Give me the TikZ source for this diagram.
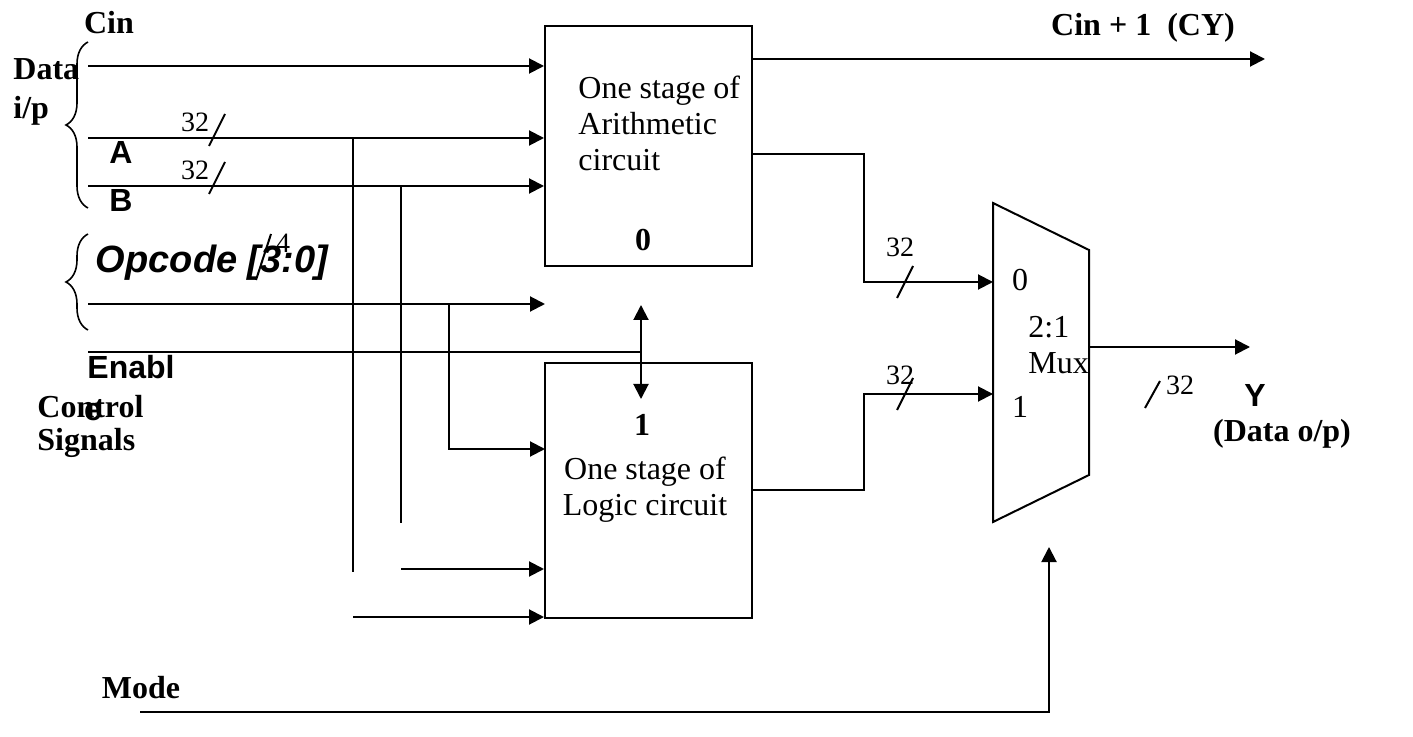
\documentclass[tikz,border=0pt]{standalone}
\usepackage{fontspec}
\setmainfont{Liberation Serif}
\setsansfont{Liberation Sans}
\usepackage{tikz}
\usetikzlibrary{arrows.meta}
\usetikzlibrary{decorations.pathreplacing}
\usetikzlibrary{positioning}

\tikzset{
  wire/.style={line width=1pt},
  sig/.style={line width=1pt, -{Triangle[length=7.5pt,width=7.5pt]}},
  blk/.style={draw, line width=1pt, inner sep=0pt},
  txt/.style={inner sep=0pt, font=\fontsize{16}{18}\selectfont},
  btxt/.style={inner sep=0pt, font=\fontsize{16}{18}\selectfont\bfseries},
  stxt/.style={inner sep=0pt, font=\fontsize{16}{18}\selectfont\sffamily\bfseries},
  bw/.style={inner sep=0pt, font=\fontsize{14}{16}\selectfont},
}

\begin{document}
\begin{tikzpicture}[x=0.5pt, y=0.5pt]
    \useasboundingbox (0,0) rectangle (1413,-737);

    % the two stages
    \node [blk, minimum width=103.5pt, minimum height=120pt] (arith) at (648.5,-146) {};
    \node [blk, minimum width=103.5pt, minimum height=127.5pt] (logic) at (648.5,-490.5) {};

    \node [txt, align=left, anchor=west] (arithtxt) at (578,-123) {One stage of\\Arithmetic\\circuit};
    \node [btxt] (sel0) at (643,-240) {0};
    \node [btxt] (sel1) at (642,-425) {1};
    \node [txt, align=center] (logictxt) at (645,-490) {One stage of\\Logic circuit};

    % 2:1 mux
    \coordinate (m1) at (993,-203);
    \coordinate (m2) at (1089,-250);
    \coordinate (m3) at (1089,-475);
    \coordinate (m4) at (993,-522);
    \draw [wire] (m1) -- (m2) -- (m3) -- (m4) -- cycle;
    \coordinate (mux0) at (993,-282);
    \coordinate (mux1) at (993,-394);
    \coordinate (muxout) at (1089,-347);
    \node [txt] (in0) at (1020,-280) {0};
    \node [txt] (in1) at (1020,-407) {1};
    \node [txt, align=left, anchor=west] (muxtxt) at (1028,-345) {2:1\\Mux};

    % data inputs
    \coordinate (cinL) at (88,-66);
    \coordinate (aL) at (88,-138);
    \coordinate (bL) at (88,-186);
    \draw [sig] (cinL) -- (cinL -| arith.west);
    \draw [sig] (aL) -- (aL -| arith.west);
    \draw [sig] (bL) -- (bL -| arith.west);
    \draw [decorate, decoration={brace, amplitude=11pt}, line width=0.8pt] (88,-208) -- (88,-42);

    \node [btxt] (cin) at (109,-23) {Cin};
    \node [btxt, anchor=west] (data) at (13,-69) {Data};
    \node [btxt, anchor=west] (ip) at (13,-111) {i/p};
    \node [stxt] (alab) at (121,-152) {A};
    \node [stxt] (blab) at (121,-200) {B};
    \node [bw] (wa) at (195,-122) {32};
    \node [bw] (wb) at (195,-170) {32};
    \draw [wire] (209,-146) -- (225,-114);
    \draw [wire] (209,-194) -- (225,-162);

    % A and B down to the logic stage
    \coordinate (aT) at (353,-138);
    \coordinate (aDn) at (353,-572);
    \coordinate (aLow) at (353,-617);
    \coordinate (bT) at (401,-186);
    \coordinate (bDn) at (401,-523);
    \coordinate (bLow) at (401,-569);
    \draw [wire] (aT) -- (aDn);
    \draw [wire] (bT) -- (bDn);
    \draw [sig] (bLow) -- (bLow -| logic.west);
    \draw [sig] (aLow) -- (aLow -| logic.west);

    % control signals
    \coordinate (opL) at (88,-304);
    \coordinate (opR) at (545,-304);
    \coordinate (opT) at (449,-304);
    \coordinate (opIn) at (545,-449);
    \draw [sig] (opL) -- (opR);
    \draw [sig] (opT) |- (opIn);
    \draw [decorate, decoration={brace, amplitude=11pt}, line width=0.8pt] (88,-330) -- (88,-234);
    \node [inner sep=0pt, font=\fontsize{19}{22}\selectfont\sffamily\bfseries\itshape] (opcode) at (212,-263) {Opcode [3:0]};
    \node [bw] (wop) at (283,-243) {4};
    \draw [wire] (256,-280) -- (271,-234);

    \coordinate (enL) at (88,-352);
    \coordinate (en) at (641,-352);
    \coordinate (enU) at (641,-305);
    \coordinate (enD) at (641,-399);
    \draw [wire] (enL) -- (en);
    \draw [line width=1pt, {Triangle[length=7.5pt,width=7.5pt]}-{Triangle[length=7.5pt,width=7.5pt]}] (enU) -- (enD);
    \node [stxt] (enabl) at (131,-367) {Enabl};
    \node [btxt, anchor=west] (ctrl) at (37,-407) {Control};
    \node [btxt, anchor=west] (sigs) at (37,-443) {Signals};
    \node [stxt] (enabe) at (93,-412) {e};

    % stage outputs into the mux
    \coordinate (aout) at (752,-154);
    \coordinate (lout) at (752,-490);
    \draw [sig] (aout) -- ++(112,0) |- (mux0);
    \draw [sig] (lout) -- ++(112,0) |- (mux1);
    \node [bw] (w0) at (900,-247) {32};
    \node [bw] (w1) at (900,-375) {32};
    \draw [wire] (897,-298) -- (913,-266);
    \draw [wire] (897,-410) -- (913,-378);

    % carry out
    \coordinate (cyo) at (752,-59);
    \coordinate (cyEnd) at (1265,-59);
    \draw [sig] (cyo) -- (cyEnd);
    \node [btxt] (cy) at (1143,-28) {Cin + 1\ \ (CY)};

    % data out
    \coordinate (yEnd) at (1250,-347);
    \draw [sig] (muxout) -- (yEnd);
    \draw [wire] (1145,-408) -- (1160,-381);
    \node [bw] (wy) at (1180,-385) {32};
    \node [stxt] (ylab) at (1255,-395) {Y};
    \node [btxt] (dout) at (1282,-434) {(Data o/p)};

    % mode select
    \coordinate (modeL) at (140,-712);
    \coordinate (modeT) at (1049,-547);
    \draw [sig] (modeL) -| (modeT);
    \node [btxt] (mode) at (141,-688) {Mode};

\end{tikzpicture}
\end{document}
